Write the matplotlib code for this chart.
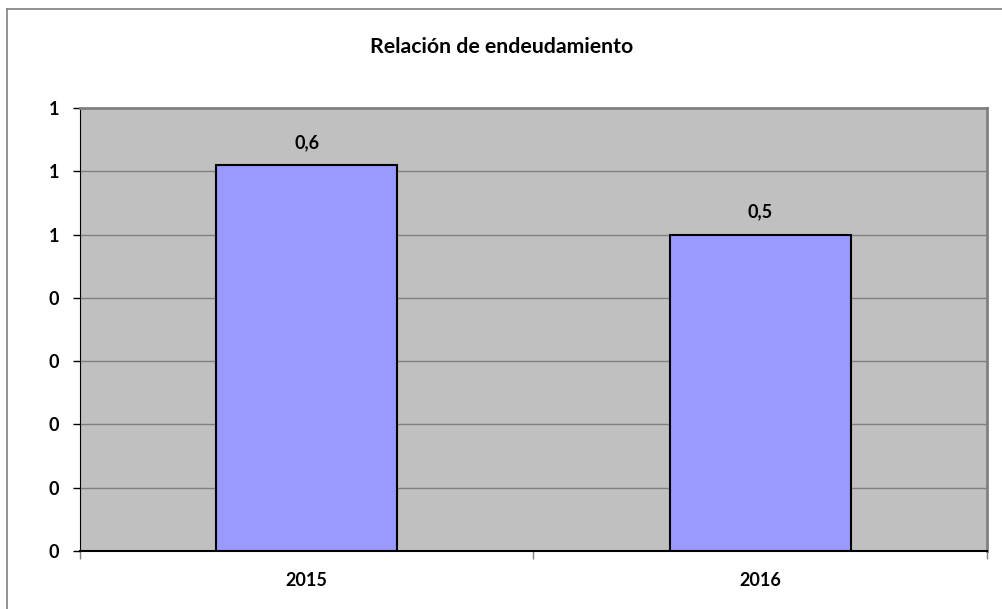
import matplotlib

matplotlib.use("Agg")
import matplotlib.pyplot as plt
from matplotlib.lines import Line2D

plt.rcParams["font.family"] = ["Lato", "DejaVu Sans"]

title = "Relación de endeudamiento"
years = ["2015", "2016"]
ratios = [0.61, 0.5]
value_labels = ["0,6", "0,5"]
y_ticks = [0.0, 0.1, 0.2, 0.3, 0.4, 0.5, 0.6, 0.7]
y_tick_labels = ["0", "0", "0", "0", "0", "1", "1", "1"]

fig = plt.figure(figsize=(10.03, 6.09), dpi=100)
ax = fig.add_axes([80 / 1003, 1 - 551 / 609, 907 / 1003, 443 / 609])
ax.set_facecolor("#C0C0C0")

x = range(len(years))
bars = ax.bar(x, ratios, width=0.4, color="#9999FF", edgecolor="black", linewidth=1.5, zorder=3)
for b, lab in zip(bars, value_labels):
    ax.annotate(lab, xy=(b.get_x() + b.get_width() / 2, b.get_height()),
                xytext=(0, 10), textcoords="offset points", ha="center", va="bottom",
                fontsize=13, fontweight="bold")

ax.set_xlim(-0.5, len(years) - 0.5)
ax.set_ylim(0, 0.7)
ax.set_yticks(y_ticks)
ax.set_yticklabels(y_tick_labels, fontsize=13, fontweight="bold")
ax.set_xticks(list(x))
ax.set_xticklabels(years, fontsize=13, fontweight="bold")
ax.set_xticks([-0.5, 0.5, 1.5], minor=True)
ax.tick_params(axis="x", which="major", length=0, pad=15)
ax.tick_params(axis="x", which="minor", length=6, color="#808080", width=1)
ax.tick_params(axis="y", length=5, width=1, pad=10)
ax.yaxis.grid(True, color="#808080", linewidth=1, zorder=0)
ax.set_axisbelow(True)

ax.spines["left"].set_color("black")
ax.spines["bottom"].set_color("black")
ax.spines["bottom"].set_linewidth(1.5)
ax.spines["top"].set_color("#808080")
ax.spines["top"].set_linewidth(2)
ax.spines["right"].set_color("#808080")
ax.spines["right"].set_linewidth(2)

fig.text(0.5, 1 - 47 / 609, title, ha="center", va="center", fontsize=15.3, fontweight="bold")

# outer chart frame (only top and left visible)
fig.add_artist(Line2D([7 / 1003, 1.0], [1 - 9 / 609] * 2, color="#808080", linewidth=1.2))
fig.add_artist(Line2D([7 / 1003] * 2, [0.0, 1 - 9 / 609], color="#808080", linewidth=1.2))

fig.savefig("out.png", dpi=100)
